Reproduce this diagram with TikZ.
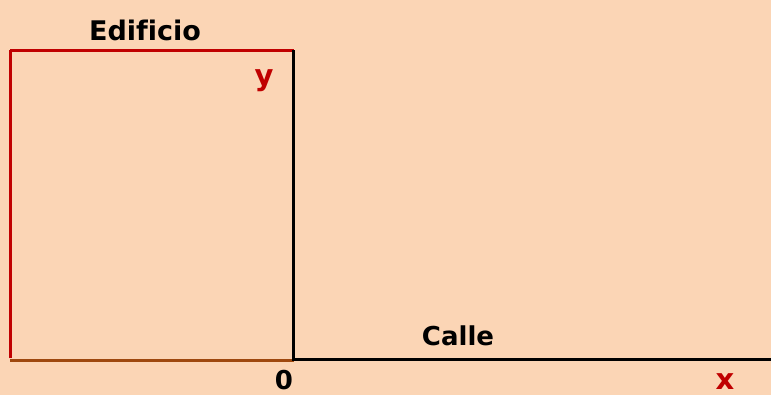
\documentclass[tikz,border=0pt]{standalone}
\usepackage{fontspec}
\setmainfont[Ligatures=NoCommon]{DejaVu Sans}
\definecolor{bg}{RGB}{251,213,181}
\definecolor{wallred}{RGB}{192,0,0}
\definecolor{groundbrown}{RGB}{158,72,14}
\begin{document}
\begin{tikzpicture}[x=1pt,y=-1pt,
  lbl/.style={font=\bfseries\fontsize{26}{28}\selectfont, inner sep=0pt, anchor=base},
  redlbl/.style={lbl, font=\bfseries\fontsize{29}{30}\selectfont, text=wallred}]
\fill[bg] (0,0) rectangle (771,395);
\useasboundingbox (0,0) rectangle (771,395);
\coordinate (tl) at (10,50.5);
\coordinate (tr) at (293.5,50.5);
\coordinate (bl) at (10,358);
\coordinate (o) at (293.5,359);
\coordinate (end) at (771,359);
\draw[wallred, line width=3pt] (bl) -- (tl);
\draw[wallred, line width=2.4pt] (tl) -- (tr);
\draw[groundbrown, line width=3pt] (10,360.5) -- (293.5,360.5);
\draw[black, line width=3pt] (tr) -- (293.5,360.5);
\draw[black, line width=3pt] (o) -- (end);
\node[lbl, font=\bfseries\fontsize{27}{30}\selectfont] (edif) at (145,41) {Edificio};
\node[redlbl] (y) at (264,86) {y};
\node[lbl] (calle) at (458,345) {Calle};
\node[lbl] (zero) at (284,389.5) {0};
\node[redlbl] (x) at (725,389.5) {x};
\end{tikzpicture}
\end{document}
